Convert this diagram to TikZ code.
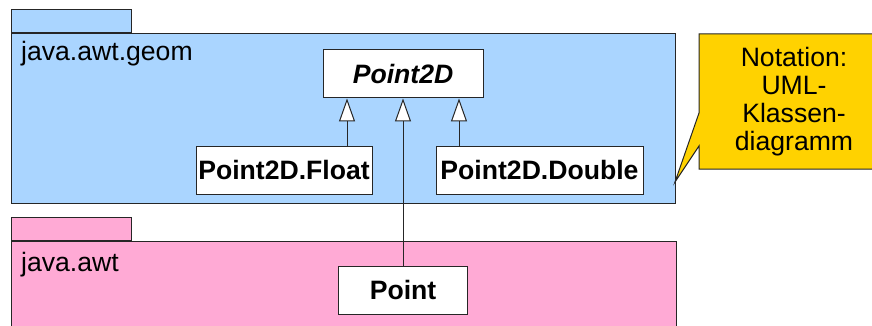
\documentclass[tikz,border=0pt]{standalone}
\usepackage{fontspec}
\setmainfont{Liberation Sans}
\usetikzlibrary{positioning}
\usetikzlibrary{arrows.meta}
\definecolor{geomColor}{RGB}{170,213,255}
\definecolor{awtColor}{RGB}{255,170,213}
\definecolor{noteColor}{RGB}{255,210,0}

\begin{document}
\begin{tikzpicture}[x=1pt,y=-1pt,every node/.style={font=\fontsize{26.6}{28}\selectfont}]

          \tikzstyle{pkg} = [draw=black!85,line width=1pt,inner sep=0pt];
          \tikzstyle{cls} = [draw=black!85,fill=white,line width=1pt,minimum height=48pt,inner sep=0pt,font=\fontsize{26.6}{28}\selectfont\bfseries];
          \tikzstyle{inherit} = [draw=black!85,line width=1pt,-{Triangle[open,fill=white,length=23pt,width=16pt]}];
          \tikzstyle{pkgLabel} = [anchor=base west,inner sep=0pt];

          \useasboundingbox (0,0) rectangle (872,326);
          \clip (0,0) rectangle (872,326);

          % packages
          \node[pkg,fill=geomColor,minimum width=664pt,minimum height=170pt,anchor=north west] (geom) at (11,33) {};
          \node[pkg,fill=geomColor,minimum width=120pt,minimum height=23pt,anchor=south west] (geomTab) at (geom.north west) {};
          \node[pkgLabel] (geomName) at (21,61) {java.awt.geom};

          \node[pkg,fill=awtColor,minimum width=665pt,minimum height=110pt,anchor=north west] (awt) at (11,241) {};
          \node[pkg,fill=awtColor,minimum width=120pt,minimum height=23pt,anchor=south west] (awtTab) at (awt.north west) {};
          \node[pkgLabel] (awtName) at (21,271) {java.awt};

          % classes
          \node[cls,minimum width=160pt,font=\fontsize{26.6}{28}\selectfont\bfseries\itshape] (p2d) at (403,74) {Point2D};
          \node[cls,minimum width=176pt] (flt) at (284,170) {Point2D.Float};
          \node[cls,minimum width=207pt] (dbl) at (539.5,170) {Point2D.Double};
          \node[cls,minimum width=129pt] (pt) at (403,290) {Point};

          \draw[inherit] ([xshift=63pt]flt.north) -- ([xshift=-56pt]p2d.south);
          \draw[inherit] ([xshift=-80.5pt]dbl.north) -- ([xshift=56pt]p2d.south);
          \draw[inherit] (pt.north) -- (p2d.south);

          % note
          \coordinate (noteTip) at (675,182);
          \path[pkg,fill=noteColor] (699,34) -- (889,34) -- (889,169) -- (699,169) -- (699,146) -- (noteTip) -- (699,113) -- cycle;
          \node[align=center] (note) at (794,101.5) {Notation:\\UML-\\Klassen-\\diagramm};
        \end{tikzpicture}
\end{document}
